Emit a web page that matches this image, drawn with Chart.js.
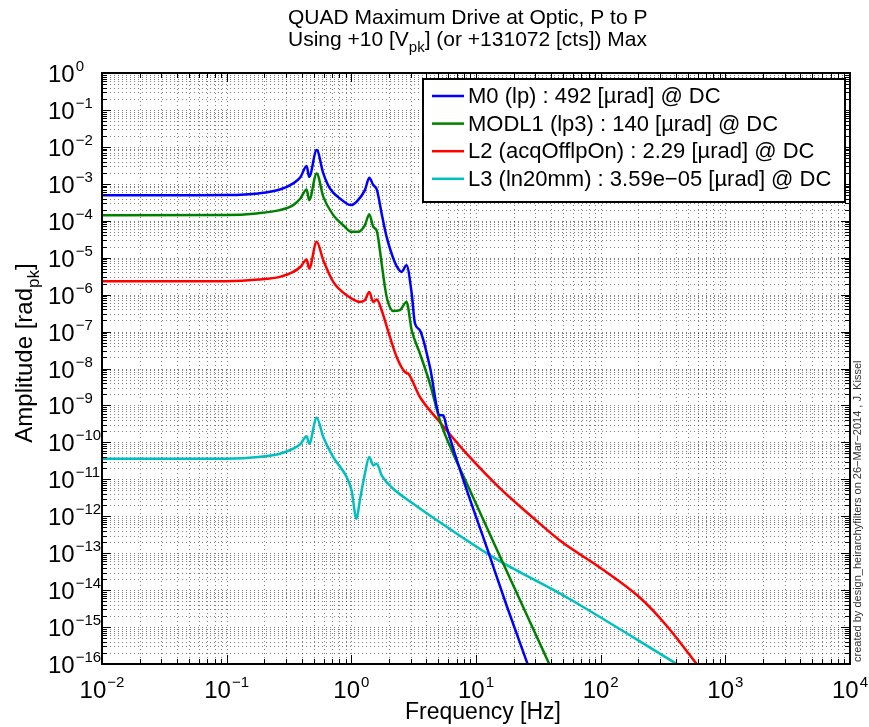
<!DOCTYPE html>
<html>
<head>
<meta charset="utf-8">
<script src="https://cdn.jsdelivr.net/npm/chart.js@4.4.1/dist/chart.umd.min.js"></script>
<style>
  html, body { margin: 0; padding: 0; background: #fff; }
  canvas { display: block; }
</style>
</head>
<body>
<canvas id="quadChart" width="869" height="727"></canvas>
<script>
// Values (frequency in Hz, amplitude in rad_pk)
const m0Freq = [0.01, 0.05, 0.1, 0.18, 0.267, 0.342, 0.39, 0.438, 0.459, 0.527, 0.596, 0.673, 0.811, 0.993, 1.10, 1.285, 1.393, 1.50, 1.60, 1.75, 1.92, 2.24, 2.40, 2.53, 2.77, 3.05, 3.24, 3.55, 4.27, 5.13, 5.46, 5.81, 7.89, 12.2, 17.6, 26.2];
const m0Amp = [4.92e-4, 4.93e-4, 4.98e-4, 5.5e-4, 7.0e-4, 1.03e-3, 1.5e-3, 3.02e-3, 1.55e-3, 8.19e-3, 1.91e-3, 7.5e-4, 4.02e-4, 2.65e-4, 3.25e-4, 6.75e-4, 1.45e-3, 9.22e-4, 7.05e-4, 1.58e-4, 3.66e-5, 7.3e-6, 4.8e-6, 4.12e-6, 6.26e-6, 1.07e-6, 1.65e-7, 1.08e-7, 1.10e-8, 5.4e-10, 5.4e-10, 2.6e-10, 9.93e-12, 1.43e-13, 3.83e-15, 9.06e-17];

const modl1Freq = [0.01, 0.1, 0.174, 0.267, 0.342, 0.39, 0.438, 0.459, 0.527, 0.596, 0.716, 0.861, 1.005, 1.135, 1.285, 1.393, 1.50, 1.60, 1.75, 1.86, 1.95, 2.17, 2.45, 2.77, 3.05, 3.55, 4.27, 5.13, 6.56, 8.30, 14.2, 39.2];
const modl1Amp = [1.40e-4, 1.42e-4, 1.58e-4, 1.94e-4, 2.65e-4, 4.0e-4, 7.05e-4, 3.61e-4, 1.91e-3, 4.44e-4, 1.42e-4, 7.6e-5, 5.0e-5, 5.0e-5, 7.6e-5, 1.51e-4, 6.84e-5, 5.3e-5, 7.0e-6, 1.6e-6, 7.0e-7, 3.6e-7, 3.8e-7, 6.3e-7, 1.08e-7, 2.54e-8, 3.90e-9, 3.95e-10, 4.94e-11, 8.77e-12, 1.62e-13, 9.06e-17];

const l2Freq = [0.01, 0.1, 0.18, 0.267, 0.342, 0.39, 0.438, 0.459, 0.527, 0.596, 0.716, 0.917, 1.17, 1.285, 1.393, 1.50, 1.60, 1.75, 2.04, 2.31, 2.69, 2.86, 3.55, 4.98, 5.81, 8.41, 15.6, 26.2, 47.1, 98.6, 206, 337, 587];
const l2Amp = [2.29e-6, 2.31e-6, 2.55e-6, 3.02e-6, 4.12e-6, 5.6e-6, 8.93e-6, 5.09e-6, 2.68e-5, 8.55e-6, 2.21e-6, 9.64e-7, 6.34e-7, 7.05e-7, 1.18e-6, 6.34e-7, 7.37e-7, 3.78e-7, 7.14e-8, 2.05e-8, 8.04e-9, 7.28e-9, 1.69e-9, 3.95e-10, 2.11e-10, 4.94e-11, 5.66e-12, 1.19e-12, 2.21e-13, 4.09e-14, 6.30e-15, 1.10e-15, 1.01e-16];

const l3Freq = [0.01, 0.1, 0.18, 0.267, 0.342, 0.39, 0.438, 0.459, 0.527, 0.596, 0.716, 0.917, 1.005, 1.10, 1.17, 1.285, 1.393, 1.50, 1.60, 1.75, 2.17, 3.14, 4.27, 13.7, 53.3, 406];
const l3Amp = [3.59e-11, 3.62e-11, 4.0e-11, 4.94e-11, 6.75e-11, 9.0e-11, 1.46e-10, 9.23e-11, 4.67e-10, 1.39e-10, 4.0e-11, 1.15e-11, 5.0e-12, 8.55e-13, 2.68e-12, 1.42e-11, 4.0e-11, 2.38e-11, 2.65e-11, 1.28e-11, 5.56e-12, 2.18e-12, 1.05e-12, 7.80e-14, 6.43e-15, 1.01e-16];

const seriesLabels = [
    'M0 (lp) : 492 [µrad] @ DC',
    'MODL1 (lp3) : 140 [µrad] @ DC',
    'L2 (acqOfflpOn) : 2.29 [µrad] @ DC',
    'L3 (ln20mm) : 3.59e\u221205 [µrad] @ DC'
];
const seriesColors = ['#0000ff', '#008000', '#ff0000', '#00bfbf'];

// tick exponents (10^n)
const xTickExps = [-2, -1, 0, 1, 2, 3, 4];
const yTickExps = [-16, -15, -14, -13, -12, -11, -10, -9, -8, -7, -6, -5, -4, -3, -2, -1, 0];

const FONT = '"Liberation Sans", Arial, Helvetica, sans-serif';
const TICK_BIG = 24;
const TICK_SMALL = 15;

function toPoints(freq, amp) {
    return freq.map((f, i) => ({ x: f, y: amp[i] }));
}

function expText(n) {
    return n < 0 ? '\u2212' + Math.abs(n) : String(n);
}

// draws "10" with a raised exponent; x is the left edge
function drawPow(ctx, x, baseline, n) {
    ctx.font = TICK_BIG + 'px ' + FONT;
    ctx.fillText('10', x, baseline);
    const w = ctx.measureText('10').width;
    ctx.font = TICK_SMALL + 'px ' + FONT;
    ctx.fillText(expText(n), x + w + 1, baseline - 11);
}

function powWidth(ctx, n) {
    ctx.font = TICK_BIG + 'px ' + FONT;
    const w = ctx.measureText('10').width;
    ctx.font = TICK_SMALL + 'px ' + FONT;
    return w + 1 + ctx.measureText(expText(n)).width;
}

// text pieces: [string, 'n' | 'sub']
function drawRich(ctx, pieces, x, baseline, size) {
    let cx = x;
    pieces.forEach(([s, kind]) => {
        const sz = kind === 'sub' ? Math.round(size * 0.72) : size;
        ctx.font = sz + 'px ' + FONT;
        ctx.fillText(s, cx, kind === 'sub' ? baseline + size * 0.3 : baseline);
        cx += ctx.measureText(s).width;
    });
    return cx - x;
}

function richWidth(ctx, pieces, size) {
    let w = 0;
    pieces.forEach(([s, kind]) => {
        const sz = kind === 'sub' ? Math.round(size * 0.72) : size;
        ctx.font = sz + 'px ' + FONT;
        w += ctx.measureText(s).width;
    });
    return w;
}

// MATLAB-like dotted grid, box, inward ticks, labels, legend
const matlabAxes = {
    id: 'matlabAxes',
    beforeDatasetsDraw(chart) {
        const { ctx, chartArea: a, scales: { x, y } } = chart;
        ctx.save();
        ctx.strokeStyle = 'rgba(0,0,0,0.5)';
        ctx.lineWidth = 1;
        ctx.setLineDash([1, 3]);
        ctx.beginPath();
        for (let e = -2; e < 4; e++) {
            for (let k = 1; k < 10; k++) {
                const px = Math.round(x.getPixelForValue(k * Math.pow(10, e))) + 0.5;
                ctx.moveTo(px, a.top);
                ctx.lineTo(px, a.bottom);
            }
        }
        for (let e = -16; e < 0; e++) {
            for (let k = 1; k < 10; k++) {
                const py = Math.round(y.getPixelForValue(k * Math.pow(10, e))) + 0.5;
                ctx.moveTo(a.left, py);
                ctx.lineTo(a.right, py);
            }
        }
        ctx.stroke();
        ctx.restore();
    },
    afterDatasetsDraw(chart) {
        const { ctx, chartArea: a, scales: { x, y } } = chart;
        ctx.save();
        ctx.strokeStyle = '#000';
        ctx.lineWidth = 1;
        ctx.beginPath();
        // x ticks, top and bottom
        for (let e = -2; e <= 4; e++) {
            for (let k = 1; k < 10; k++) {
                const v = k * Math.pow(10, e);
                if (v > 1e4) break;
                const len = k === 1 ? 9 : 5;
                const px = Math.round(x.getPixelForValue(v)) + 0.5;
                ctx.moveTo(px, a.bottom); ctx.lineTo(px, a.bottom - len);
                ctx.moveTo(px, a.top); ctx.lineTo(px, a.top + len);
            }
        }
        // y ticks, left and right
        for (let e = -16; e <= 0; e++) {
            for (let k = 1; k < 10; k++) {
                const v = k * Math.pow(10, e);
                if (v > 1) break;
                const len = k === 1 ? 9 : 5;
                const py = Math.round(y.getPixelForValue(v)) + 0.5;
                ctx.moveTo(a.left, py); ctx.lineTo(a.left + len, py);
                ctx.moveTo(a.right, py); ctx.lineTo(a.right - len, py);
            }
        }
        ctx.stroke();
        ctx.lineWidth = 2;
        ctx.strokeRect(a.left, a.top, a.right - a.left, a.bottom - a.top);

        // legend box
        const lg = { left: 423, top: 79, right: 845, bottom: 202 };
        ctx.fillStyle = '#fff';
        ctx.fillRect(lg.left, lg.top, lg.right - lg.left, lg.bottom - lg.top);
        ctx.strokeRect(lg.left, lg.top, lg.right - lg.left, lg.bottom - lg.top);
        ctx.font = '22px ' + FONT;
        ctx.textBaseline = 'middle';
        chart.data.datasets.forEach((ds, i) => {
            const rowY = 96 + i * 27.6;
            ctx.strokeStyle = ds.borderColor;
            ctx.lineWidth = 2.5;
            ctx.beginPath();
            ctx.moveTo(432, rowY);
            ctx.lineTo(464, rowY);
            ctx.stroke();
            ctx.fillStyle = '#000';
            ctx.fillText(ds.label, 468, rowY + 1);
        });
        ctx.restore();
    },
    afterDraw(chart) {
        const { ctx, chartArea: a, scales: { x, y } } = chart;
        ctx.save();
        ctx.fillStyle = '#000';
        ctx.textBaseline = 'alphabetic';
        ctx.textAlign = 'left';

        // tick labels
        xTickExps.forEach(n => {
            const px = x.getPixelForValue(Math.pow(10, n));
            drawPow(ctx, px - powWidth(ctx, n) / 2, 698, n);
        });
        yTickExps.forEach(n => {
            const py = y.getPixelForValue(Math.pow(10, n));
            drawPow(ctx, 48, py + 9, n);
        });

        // title, two lines sharing a left edge
        const t1 = [['QUAD Maximum Drive at Optic, P to P', 'n']];
        const t2 = [['Using +10 [V', 'n'], ['pk', 'sub'], ['] (or +131072 [cts]) Max', 'n']];
        const cx = (a.left + a.right) / 2;
        drawRich(ctx, t1, 288, 24, 21);
        drawRich(ctx, t2, 288, 46, 21);

        // x axis title
        const xt = [['Frequency [Hz]', 'n']];
        drawRich(ctx, xt, cx + 7 - richWidth(ctx, xt, 23) / 2, 719, 23);

        // y axis title, rotated
        const yt = [['Amplitude [rad', 'n'], ['pk', 'sub'], [']', 'n']];
        ctx.save();
        ctx.translate(32, 353);
        ctx.rotate(-Math.PI / 2);
        drawRich(ctx, yt, -richWidth(ctx, yt, 24) / 2, 0, 24);
        ctx.restore();

        // small stamp on the right edge
        ctx.save();
        ctx.translate(861, 662);
        ctx.rotate(-Math.PI / 2);
        ctx.font = '11px ' + FONT;
        ctx.fillStyle = '#333';
        ctx.fillText('created by design_heirarchyfilters on 26\u2212Mar\u22122014 , J. Kissel', 0, 0);
        ctx.restore();

        ctx.restore();
    }
};

const ctx = document.getElementById('quadChart').getContext('2d');
const seriesFreq = [m0Freq, modl1Freq, l2Freq, l3Freq];
const seriesAmp = [m0Amp, modl1Amp, l2Amp, l3Amp];

new Chart(ctx, {
    type: 'line',
    data: {
        datasets: seriesLabels.map((label, i) => ({
            label: label,
            data: toPoints(seriesFreq[i], seriesAmp[i]),
            borderColor: seriesColors[i],
            backgroundColor: seriesColors[i],
            borderWidth: 2.5,
            pointRadius: 0,
            fill: false,
            cubicInterpolationMode: 'monotone',
        })),
    },
    options: {
        responsive: false,
        animation: false,
        devicePixelRatio: 1,
        layout: { padding: { left: 102, right: 19, top: 73, bottom: 63 } },
        plugins: {
            legend: { display: false },
            title: { display: false },
            tooltip: { enabled: false },
        },
        scales: {
            x: { type: 'logarithmic', min: 0.01, max: 1e4, display: false },
            y: { type: 'logarithmic', min: 1e-16, max: 1, display: false },
        },
    },
    plugins: [matlabAxes],
});
</script>
</body>
</html>
